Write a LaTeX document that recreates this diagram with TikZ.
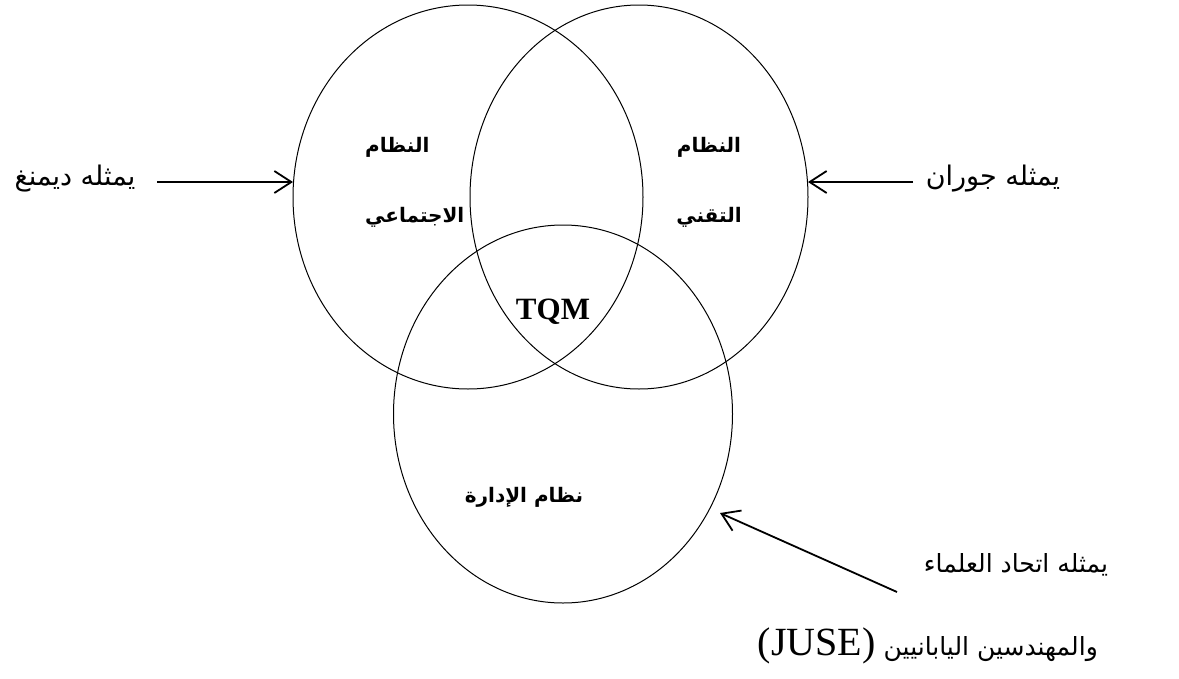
\documentclass[tikz,border=0pt]{standalone}
\usepackage{fontspec}
\setmainfont{Liberation Serif}
\newfontfamily\arabicfont[Script=Arabic]{DejaVu Sans}
\TeXXeTstate=1
\usetikzlibrary{arrows.meta,shapes.geometric}
\newcommand{\ar}[1]{{\arabicfont\beginR #1\endR}}
\begin{document}
\begin{tikzpicture}[x=1pt,y=-1pt,
  ring/.style={draw,ellipse,line width=1pt,inner sep=0pt},
  note/.style={inner sep=0pt,font=\fontsize{27}{31}\selectfont},
  longnote/.style={inner sep=0pt,font=\fontsize{25}{29}\selectfont},
  tag/.style={inner sep=0pt,font=\bfseries\fontsize{20}{24}\selectfont},
  pointer/.style={line width=1.8pt,-{Straight Barb[length=17pt,width=22pt,line width=1.8pt]}}]
\useasboundingbox (0,0) rectangle (1179,678);

% the three systems
\node[ring,minimum width=350,minimum height=384] (social) at (468,197) {};
\node[ring,minimum width=338,minimum height=384] (tech) at (639,197) {};
\node[ring,minimum width=339,minimum height=378] (mgmt) at (563,414) {};

% labels inside the rings
\node[tag,anchor=west] (s1) at (365,147) {\ar{النظام}};
\node[tag,anchor=west] (s2) at (365,217) {\ar{الاجتماعي}};
\node[tag] (t1) at (709,147) {\ar{النظام}};
\node[tag] (t2) at (709,217) {\ar{التقني}};
\node[tag] (m1) at (524,497) {\ar{نظام الإدارة}};
\node[inner sep=0pt,font=\bfseries\fontsize{31}{34}\selectfont] (tqm) at (553,312) {TQM};

% who stands for each system
\node[note] (deming) at (75,179) {\ar{يمثله ديمنغ}};
\node[note] (juran) at (993,179) {\ar{يمثله جوران}};
\node[longnote] (juse1) at (1016,565) {\ar{يمثله اتحاد العلماء}};
\node[longnote,anchor=base east] (juse2) at (1098,655) {\ar{والمهندسين اليابانيين \beginL{\normalfont\fontsize{40}{42}\selectfont(JUSE)}\endL}};

\coordinate (dtail) at (157,182);
\coordinate (dtip) at (293,182);
\coordinate (jtail) at (913,182);
\coordinate (jtip) at (808,182);
\coordinate (utail) at (897,592);
\coordinate (utip) at (720,513);
\draw[pointer] (dtail) -- (dtip);
\draw[pointer] (jtail) -- (jtip);
\draw[pointer] (utail) -- (utip);
\end{tikzpicture}
\end{document}
